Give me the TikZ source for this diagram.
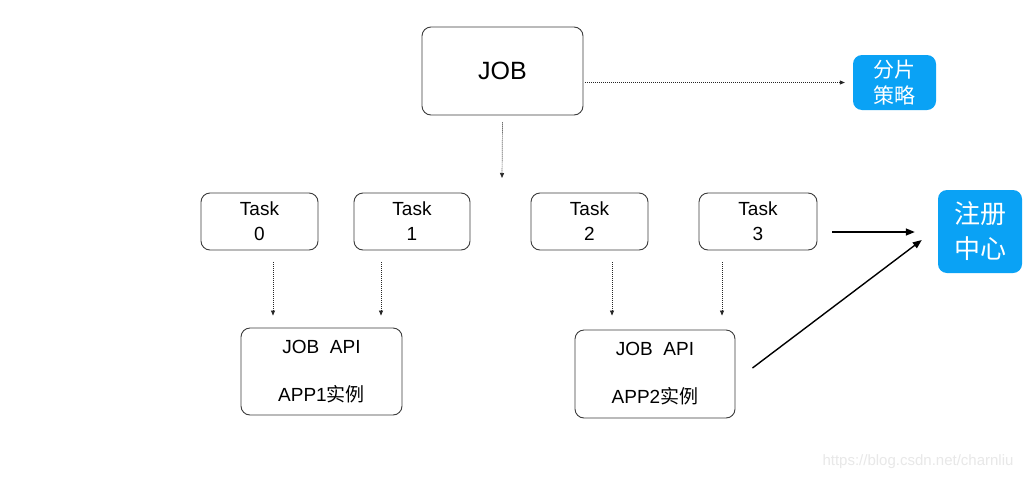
\documentclass[tikz,border=0pt]{standalone}
\usepackage{fontspec}
\setmainfont{Liberation Sans}
\newfontfamily\cjk{Noto Sans CJK SC}
\usetikzlibrary{arrows.meta,calc}
\definecolor{regblue}{RGB}{10,162,245}
\definecolor{boxline}{RGB}{60,60,60}
\definecolor{wmgray}{RGB}{232,232,232}
\tikzset{
  box/.style={draw=boxline, line width=0.9pt, rounded corners=9pt, fill=white,
    inner sep=0pt, align=center},
  bluebox/.style={fill=regblue, rounded corners=9pt, text=white, inner sep=0pt, align=center},
  dotarrow/.style={draw=black!85, line width=0.7pt, dash pattern=on 1pt off 1pt,
    -{Triangle[length=5pt,width=4pt]}},
  solidarrow/.style={draw=black, line width=1.4pt, -{Triangle[length=9pt,width=7pt]}},
  tasktxt/.style={font=\fontsize{19}{25}\selectfont},
}
\begin{document}
\begin{tikzpicture}[x=1pt,y=-1pt]
\useasboundingbox (0,0) rectangle (1031,480);
\fill[white] (0,0) rectangle (1031,480);

\node[box, minimum width=161pt, minimum height=88pt, font=\fontsize{25}{30}\selectfont] (job) at (502.5,71) {JOB};
\node[bluebox, minimum width=83pt, minimum height=55pt, font=\cjk\fontsize{21}{26}\selectfont] (fp) at (894.5,82.5) {分片\\策略};

\node[box, tasktxt, minimum width=117pt, minimum height=57pt] (t0) at (259.5,221.5) {Task\\0};
\node[box, tasktxt, minimum width=116pt, minimum height=57pt] (t1) at (412,221.5) {Task\\1};
\node[box, tasktxt, minimum width=117pt, minimum height=57pt] (t2) at (589.5,221.5) {Task\\2};
\node[box, tasktxt, minimum width=118pt, minimum height=57pt] (t3) at (758,221.5) {Task\\3};

\node[bluebox, minimum width=84pt, minimum height=83pt, font=\cjk\fontsize{26}{35}\selectfont] (reg) at (980,231.5) {注册\\中心};

\node[box, minimum width=161pt, minimum height=87pt, font=\fontsize{19}{24}\selectfont] (app1) at (321.5,371.5) {JOB\ \ API\\[24pt]APP1{\cjk 实例}};
\node[box, minimum width=160pt, minimum height=88pt, font=\fontsize{19}{24}\selectfont] (app2) at (655,374) {JOB\ \ API\\[24pt]APP2{\cjk 实例}};

\coordinate (jobend) at (502,178);
\draw[dotarrow] ($(job.south)+(0,7)$) -- (jobend);
\draw[dotarrow] ($(job.east |- fp.west)+(2,0)$) -- ($(fp.west)+(-8,0)$);

\draw[dotarrow] ($(t0.south)+(13.5,12)$) -- ($(t0.south |- app1.north)+(13.5,-12)$);
\draw[dotarrow] ($(t1.south)+(-31,12)$) -- ($(t1.south |- app1.north)+(-31,-12)$);
\draw[dotarrow] ($(t2.south)+(22.5,12)$) -- ($(t2.south |- app2.north)+(22.5,-14)$);
\draw[dotarrow] ($(t3.south)+(-36,12)$) -- ($(t3.south |- app2.north)+(-36,-14)$);

\draw[solidarrow] ($(t3.east |- reg.west)+(15,0.5)$) -- ($(reg.west)+(-23,0.5)$);
\draw[solidarrow] ($(app2.east)+(17,-6)$) -- ($(reg.west)+(-16,8.5)$);

\node[text=wmgray, font=\fontsize{15}{18}\selectfont, inner sep=0pt] (wm) at (918,462) {https://blog.csdn.net/charnliu};
\end{tikzpicture}
\end{document}
